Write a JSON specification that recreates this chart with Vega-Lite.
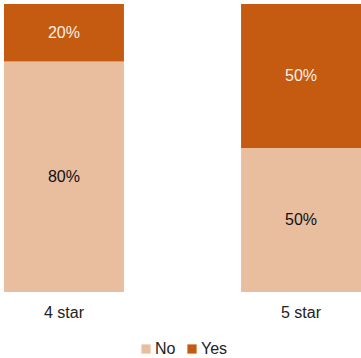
{
  "$schema": "https://vega.github.io/schema/vega-lite/v6.json",
  "width": 357,
  "height": 288,
  "padding": {"left": 4, "top": 4, "right": 0, "bottom": 0},
  "background": "white",
  "config": {"view": {"stroke": null}, "font": "Liberation Sans",
    "legend": {"layout": {"bottom": {"anchor": "middle"}}}},
  "data": {"values": [
    {"hotel": "4 star", "answer": "No", "share": 0.8},
    {"hotel": "4 star", "answer": "Yes", "share": 0.2},
    {"hotel": "5 star", "answer": "No", "share": 0.5},
    {"hotel": "5 star", "answer": "Yes", "share": 0.5}
  ]},
  "transform": [
    {"stack": "share", "groupby": ["hotel"], "sort": [{"field": "answer", "order": "ascending"}], "as": ["s0", "s1"]},
    {"calculate": "(datum.s0 + datum.s1) / 2", "as": "mid"}
  ],
  "encoding": {
    "x": {"field": "hotel", "type": "nominal", "title": null,
      "scale": {"paddingInner": 0.494, "paddingOuter": 0},
      "axis": {"labelAngle": 0, "domain": false, "ticks": false, "labelPadding": 12, "labelFontSize": 16, "labelColor": "#222222", "labelFont": "Liberation Sans"}}
  },
  "layer": [
    {
      "mark": {"type": "bar"},
      "encoding": {
        "y": {"field": "s0", "type": "quantitative", "scale": {"domain": [0, 1]}, "axis": null},
        "y2": {"field": "s1"},
        "color": {"field": "answer", "type": "nominal", "title": null,
          "scale": {"domain": ["No", "Yes"], "range": ["#E9BE9F", "#C55A11"]},
          "legend": {"orient": "bottom", "direction": "horizontal", "symbolType": "square", "symbolSize": 85, "labelFontSize": 16, "labelColor": "#222222", "labelFont": "Liberation Sans", "labelOffset": 1, "columnPadding": 8, "offset": 21, "symbolStrokeWidth": 0}}
      }
    },
    {
      "mark": {"type": "text", "fontSize": 16, "font": "Liberation Sans"},
      "encoding": {
        "y": {"field": "mid", "type": "quantitative", "scale": {"domain": [0, 1]}},
        "text": {"field": "share", "type": "quantitative", "format": ".0%"},
        "color": {"field": "answer", "type": "nominal", "scale": {"domain": ["No", "Yes"], "range": ["#111111", "#FBEFE6"]}, "legend": null}
      }
    }
  ],
  "resolve": {"scale": {"color": "independent"}}
}
